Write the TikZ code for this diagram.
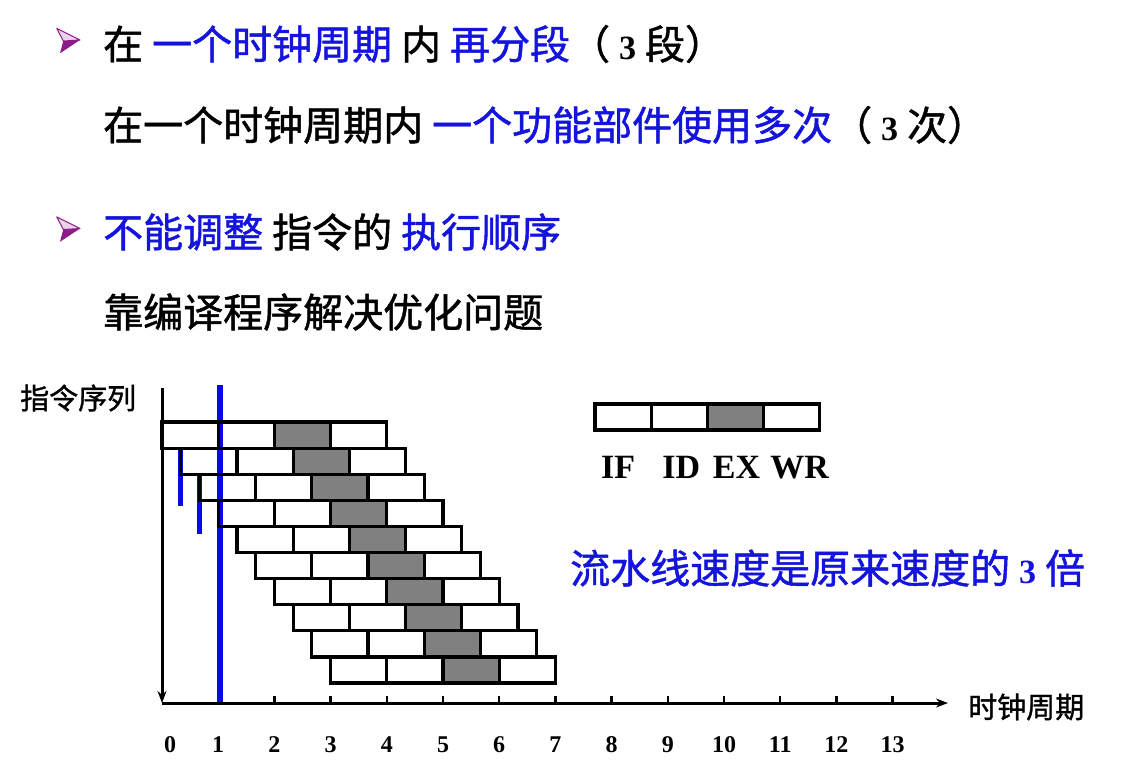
\documentclass[tikz,border=0pt]{standalone}
\usepackage{fontspec}
\usepackage{xcolor}
\usepackage{tikz}
\usetikzlibrary{arrows.meta, positioning}
\newfontfamily\cjk{Noto Sans CJK SC}[FakeBold=1.2]
\newfontfamily\numfont{Liberation Serif}
\definecolor{pipeblue}{HTML}{1414DC}
\definecolor{markblue}{HTML}{0A0AE6}
\definecolor{exgray}{HTML}{808080}
\definecolor{bulletpurple}{HTML}{8E1B8A}
\definecolor{bulletlight}{HTML}{EBD3EA}
\newcommand{\hl}[1]{\textcolor{pipeblue}{#1}}
\newcommand{\bnum}[1]{{\numfont\bfseries\fontsize{34}{40}\selectfont #1}}

\begin{document}
\begin{tikzpicture}[x=1pt, y=-1pt,
        line/.style={anchor=west, inner sep=0, font=\cjk\fontsize{40}{48}\selectfont},
        axislabel/.style={anchor=west, inner sep=0, font=\cjk\fontsize{29}{34}\selectfont},
        stage/.style={draw, line width=3.2pt, minimum width=56.2pt, minimum height=26.1pt, inner sep=0, outer sep=0},
        axis/.style={line width=3pt, -{Stealth[length=12pt, width=9pt]}},
        marker/.style={markblue, line width=5pt},
        num/.style={font=\numfont\bfseries\fontsize{24}{28}\selectfont, inner sep=0},
        stagename/.style={font=\numfont\bfseries\fontsize{34}{40}\selectfont, inner sep=0},
        arrowbullet/.pic={
            \fill[bulletpurple] (-4.7,0) -- (12,-1) -- (-8,12.3) -- cycle;
            \filldraw[fill=bulletlight, draw=bulletpurple, line width=1pt, line join=round] (-11.3,-12.7) -- (12,-1) -- (-4.7,0) -- cycle;
        }
    ]
        \useasboundingbox (0,0) rectangle (1134,772);

        % text lines
        \pic at (68,41) {arrowbullet};
        \node[line] (cycleline) at (103,44) {在 \hl{一个时钟周期} 内 \hl{再分段}（ \bnum{3} 段）};
        \node[line] (reuseline) at (103,125) {在一个时钟周期内 \hl{一个功能部件使用多次}（ \bnum{3} 次）};
        \pic at (68,229.5) {arrowbullet};
        \node[line] (orderline) at (103,232) {\hl{不能调整} 指令的 \hl{执行顺序}};
        \node[line] (compilerline) at (103,312) {靠编译程序解决优化问题};

        % axes
        \coordinate (origin) at (162,703);
        \coordinate (ytop) at (162,388);
        \coordinate (xend) at (948,703);
        \node[axislabel] (seqlabel) at (20,398) {指令序列};
        \node[axislabel, right=20pt of xend, yshift=-4pt] (cyclelabel) {时钟周期};

        % start markers
        \draw[marker, line width=6pt] (219.5,385) -- (219.5,703);
        \draw[marker] (180.7,447.5) -- (180.7,506);
        \draw[marker] (199.5,473.6) -- (199.5,534);

        \draw[axis] (ytop) -- (origin);
        \draw[axis] (origin) -- (xend);
        \foreach \n in {2,...,13}
            \draw[line width=2.4pt] ({162+56.2*\n},703) -- ++(0,-7);
        \node[num] (t0) at (170,745) {0};
        \foreach \n in {1,...,13}
            \node[num] (t\n) at ({162+56.2*\n},745) {\n};

        % pipeline rows
        \foreach \k in {0,...,9} {
            \foreach \j/\fc in {0/none,1/none,2/exgray,3/none} {
                \node[stage, fill=\fc] (s\k\j) at ({162+56.2*(\k/3+\j)+28.1}, {422+26.1*\k+13.05}) {};
            }
        }

        % legend
        \node[stage] (legif) at (623.1,417) {};
        \node[stage, right=0pt of legif] (legid) {};
        \node[stage, fill=exgray, right=0pt of legid] (legex) {};
        \node[stage, right=0pt of legex] (legwr) {};
        \node[stagename, below=26pt of legif, xshift=-5pt] {IF};
        \node[stagename, below=26pt of legid, xshift=2pt] {ID};
        \node[stagename, below=26pt of legex, xshift=1pt] {EX};
        \node[stagename, below=26pt of legwr, xshift=8pt] {WR};

        \node[line, text=pipeblue] (speedup) at (570,568) {流水线速度是原来速度的 \bnum{3} 倍};
    \end{tikzpicture}
\end{document}
